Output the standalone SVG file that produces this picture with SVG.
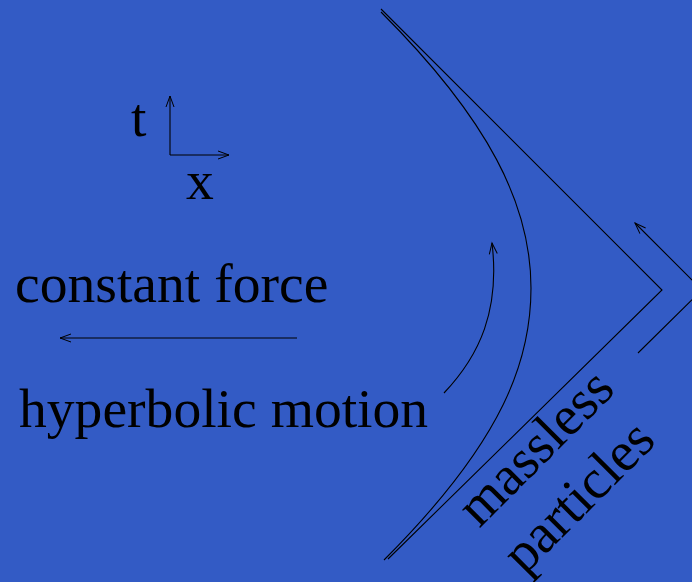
<svg xmlns="http://www.w3.org/2000/svg" width="692" height="582" viewBox="0 0 692 582">
<defs>
<marker id="arr" markerUnits="userSpaceOnUse" markerWidth="16" markerHeight="12" viewBox="-12 -6 14 12" refX="0" refY="0" orient="auto">
<path d="M-11,-4 L0,0 L-11,4" fill="none" stroke="#000" stroke-width="1"/>
</marker>
</defs>
<style>
.ln{fill:none;stroke:#000;stroke-width:1.1}
.tx{font-family:"Liberation Serif","Times New Roman",serif;font-size:55.6px;fill:#000}
</style>
<rect width="692" height="582" fill="#335bc5"/>
<g id="connectors">
<path class="ln" d="M170,155 L170,96" marker-end="url(#arr)"/>
<path class="ln" d="M170,155 L229,155" marker-end="url(#arr)"/>
<path class="ln" d="M297,338 L60,338" marker-end="url(#arr)"/>
<path class="ln" d="M444,393 C480,355 500,310 492,243" marker-end="url(#arr)"/>
<path class="ln" d="M638,353 L702,290 L635,223" marker-end="url(#arr)"/>
</g>
<g id="light-cone">
<path class="ln" d="M381,9 L662,290 L388,559"/>
</g>
<g id="hyperbola">
<path class="ln" d="M381,12 C489,120 531,205 531,288 C531,358 506,438 384,560"/>
</g>
<g id="label-t"><text class="tx" x="131" y="136">t</text></g>
<g id="label-x"><text class="tx" x="186" y="199">x</text></g>
<g id="label-force"><text class="tx" x="15" y="302">constant force</text></g>
<g id="label-hyperbolic"><text class="tx" x="19" y="427">hyperbolic motion</text></g>
<g id="label-massless">
<text class="tx" text-anchor="middle" transform="translate(548,460) rotate(-45)">massless</text>
<text class="tx" text-anchor="middle" transform="translate(591,509) rotate(-45)">particles</text>
</g>
</svg>
